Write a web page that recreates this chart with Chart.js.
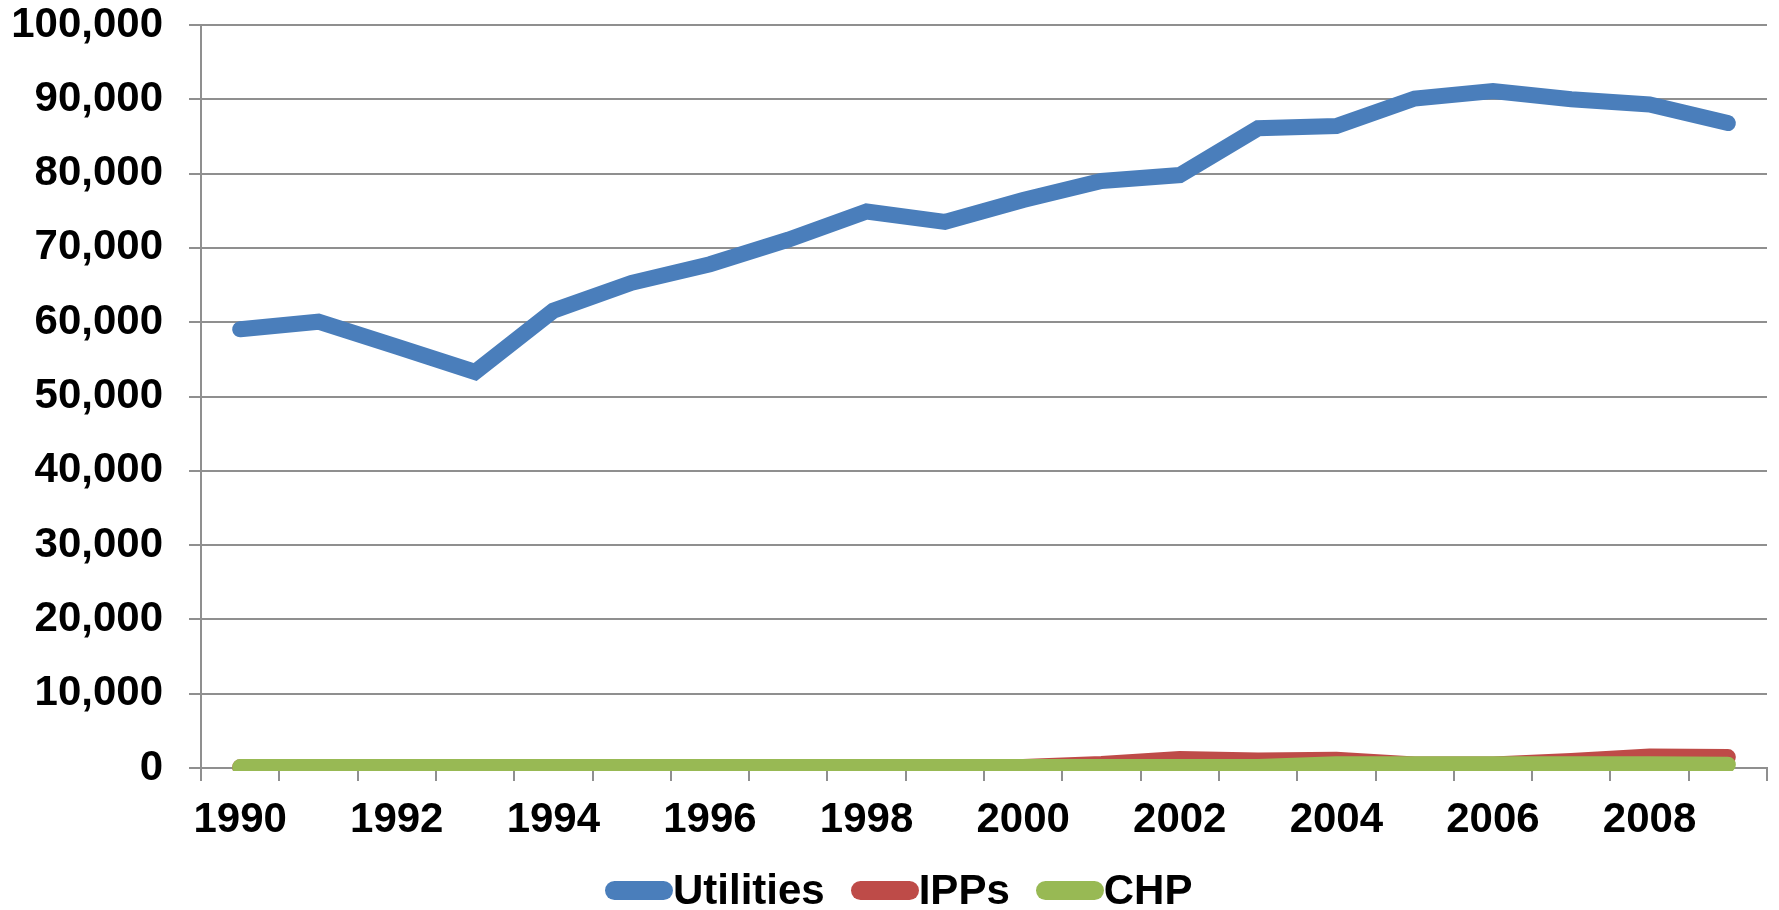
<!DOCTYPE html>
<html>
<head>
<meta charset="utf-8">
<script src="https://cdn.jsdelivr.net/npm/chart.js@4.4.1/dist/chart.umd.min.js"></script>
<style>
    body { margin: 0; background: #fff; }
    #wrap { position: relative; width: 1779px; height: 910px; }
    #legend {
        position: absolute; left: 605px; top: 866px; height: 48px;
        display: flex; align-items: center;
        font: bold 42px "Liberation Sans", Arial, sans-serif; color: #000;
    }
    #legend .item { display: flex; align-items: center; margin-right: 26px; line-height: 48px; }
    #legend .sw { width: 68px; height: 19px; border-radius: 9.5px; }
</style>
</head>
<body>
<div id="wrap">
    <canvas id="myChart"></canvas>
    <div id="legend"></div>
</div>
<script>
var years = ['1990','1991','1992','1993','1994','1995','1996','1997','1998','1999',
             '2000','2001','2002','2003','2004','2005','2006','2007','2008','2009'];
var utilities = [59050, 60070, 56700, 53300, 61550, 65300, 67800, 71100, 74900, 73500,
                 76450, 79000, 79800, 86100, 86400, 90100, 91100, 90000, 89300, 86800];
var ipps = [100, 100, 100, 100, 100, 100, 100, 100, 100, 100,
            150, 550, 1200, 1000, 1100, 480, 480, 950, 1550, 1480];
var chp = [130, 130, 130, 130, 130, 130, 130, 130, 130, 130,
           130, 130, 130, 130, 500, 500, 500, 500, 500, 450];
var yTicks = [0, 10000, 20000, 30000, 40000, 50000, 60000, 70000, 80000, 90000, 100000];

var names = ['Utilities', 'IPPs', 'CHP'];
var colors = ['#4a7ebb', '#be4b48', '#98b954'];
var gridColor = '#8f8f8f';
var font = { family: '"Liberation Sans", Arial, sans-serif', weight: 'bold', size: 42 };

function makeSet(i, values) {
    return {
        label: names[i],
        data: values,
        borderColor: colors[i],
        backgroundColor: colors[i],
        borderWidth: 16,
        borderCapStyle: 'round',
        borderJoinStyle: 'miter',
        pointRadius: 0,
        pointHoverRadius: 0,
        tension: 0,
        order: 2 - i,
        clip: { left: false, top: false, right: false, bottom: 3 }
    };
}

var chartdata = {
    labels: years,
    datasets: [makeSet(0, utilities), makeSet(1, ipps), makeSet(2, chp)]
};

var ctx = document.getElementById('myChart');
var myChart = new Chart(ctx, {
    type: 'line',
    data: chartdata,
    options: {
        responsive: true,
        maintainAspectRatio: false,
        animation: false,
        events: [],
        layout: { padding: { top: 25, right: 12, left: 0, bottom: 0 } },
        plugins: { legend: { display: false }, tooltip: { enabled: false } },
        scales: {
            x: {
                offset: true,
                grid: { offset: true, drawOnChartArea: false, drawTicks: true, tickLength: 13, color: gridColor, lineWidth: 2 },
                border: { display: true, color: gridColor, width: 2 },
                ticks: {
                    autoSkip: false, maxRotation: 0, padding: 14, color: '#000', font: font,
                    callback: function (v, i) { return i % 2 === 0 ? years[i] : ''; }
                },
                afterFit: function (s) { s.height = 142; s.paddingLeft = 0; s.paddingRight = 0; }
            },
            y: {
                min: yTicks[0],
                max: yTicks[yTicks.length - 1],
                afterBuildTicks: function (s) { s.ticks = yTicks.map(function (v) { return { value: v }; }); },
                grid: { color: gridColor, lineWidth: 2, tickLength: 12 },
                border: { display: true, color: gridColor, width: 2 },
                ticks: {
                    padding: 26, color: '#000', font: font,
                    callback: function (v) { return v.toLocaleString('en-US'); }
                },
                afterFit: function (s) { s.width = 201; s.paddingTop = 0; s.paddingBottom = 0; }
            }
        }
    }
});

// legend drawn as html, swatch touching the text like the original
var legend = document.getElementById('legend');
chartdata.datasets.forEach(function (ds) {
    var item = document.createElement('div');
    item.className = 'item';
    var sw = document.createElement('div');
    sw.className = 'sw';
    sw.style.background = ds.borderColor;
    var txt = document.createElement('span');
    txt.textContent = ds.label;
    item.appendChild(sw);
    item.appendChild(txt);
    legend.appendChild(item);
});
</script>
</body>
</html>
